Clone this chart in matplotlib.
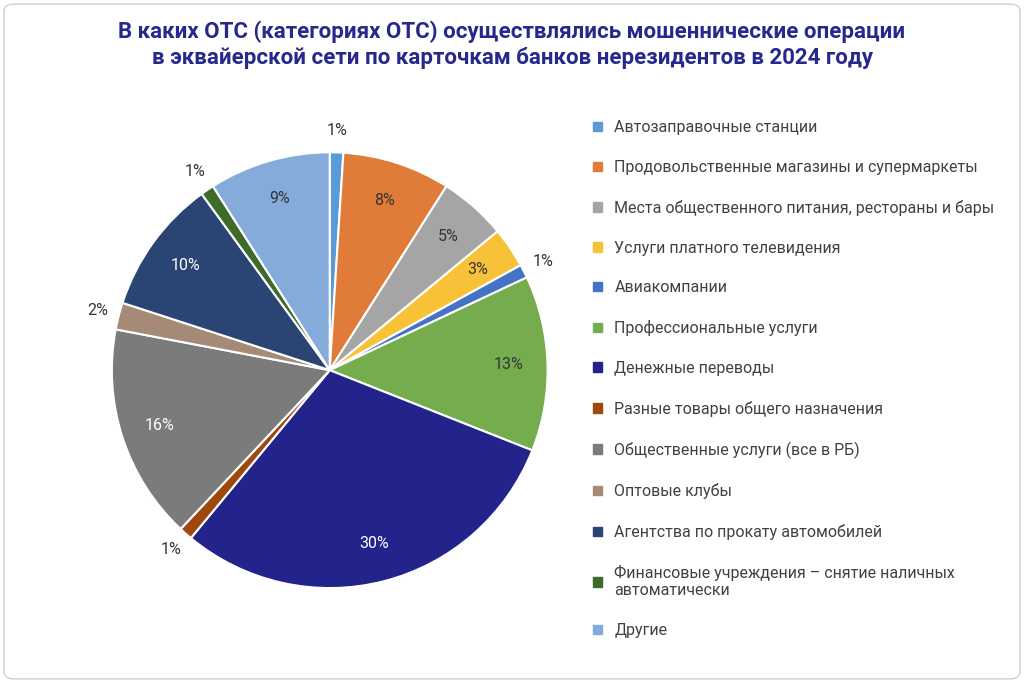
import numpy as np
import matplotlib.pyplot as plt
from matplotlib.patches import FancyBboxPatch

plt.rcParams["font.family"] = ["Roboto", "DejaVu Sans"]

categories = [
    "Автозаправочные станции",
    "Продовольственные магазины и супермаркеты",
    "Места общественного питания, рестораны и бары",
    "Услуги платного телевидения",
    "Авиакомпании",
    "Профессиональные услуги",
    "Денежные переводы",
    "Разные товары общего назначения",
    "Общественные услуги (все в РБ)",
    "Оптовые клубы",
    "Агентства по прокату автомобилей",
    "Финансовые учреждения – снятие наличных\nавтоматически",
    "Другие",
]
values = [1, 8, 5, 3, 1, 13, 30, 1, 16, 2, 10, 1, 9]
colors = ["#5B9BD5", "#E07B39", "#A5A5A5", "#F7C237", "#4472C4", "#75AC4D",
          "#23238C", "#9E480E", "#7B7B7B", "#A58A78", "#2A4473", "#3F6B2A", "#85ABDB"]
light_text = {6, 8, 10}

fig = plt.figure(figsize=(10.24, 6.83), dpi=100)
fig.patches.append(FancyBboxPatch((0.004, 0.006), 0.992, 0.988, boxstyle="round,pad=0,rounding_size=0.01",
                                  transform=fig.transFigure, fill=False, ec="#d0d0d0", lw=1))

fig.text(0.5, 0.935, "В каких ОТС (категориях ОТС) осуществлялись мошеннические операции\n"
         "в эквайерской сети по карточкам банков нерезидентов в 2024 году",
         ha="center", va="center", fontsize=16, fontweight="bold", color="#27288C", linespacing=1.25)

ax = fig.add_axes([0.109, 0.139, 0.426, 0.638])
wedges, _ = ax.pie(values, colors=colors, startangle=90, counterclock=False,
                   wedgeprops=dict(edgecolor="white", linewidth=1.5))
ax.set_xlim(-1, 1)
ax.set_ylim(-1, 1)
ax.set_aspect("equal")

for i, w in enumerate(wedges):
    ang = np.deg2rad((w.theta1 + w.theta2) / 2)
    r = 1.1 if values[i] <= 2 else 0.82
    col = "white" if i in light_text else "#333333"
    ax.text(r * np.cos(ang), r * np.sin(ang), f"{values[i]}%", ha="center", va="center",
            fontsize=11.5, color=col, clip_on=False)

handles = [plt.Rectangle((0, 0), 1, 1, color=c) for c in colors]
fig.legend(handles, categories, loc="upper left", bbox_to_anchor=(0.565, 0.845),
           frameon=False, fontsize=11.5, handlelength=0.55, handleheight=0.55,
           labelspacing=1.55, labelcolor="#404040")

plt.savefig("out.png", dpi=100)
